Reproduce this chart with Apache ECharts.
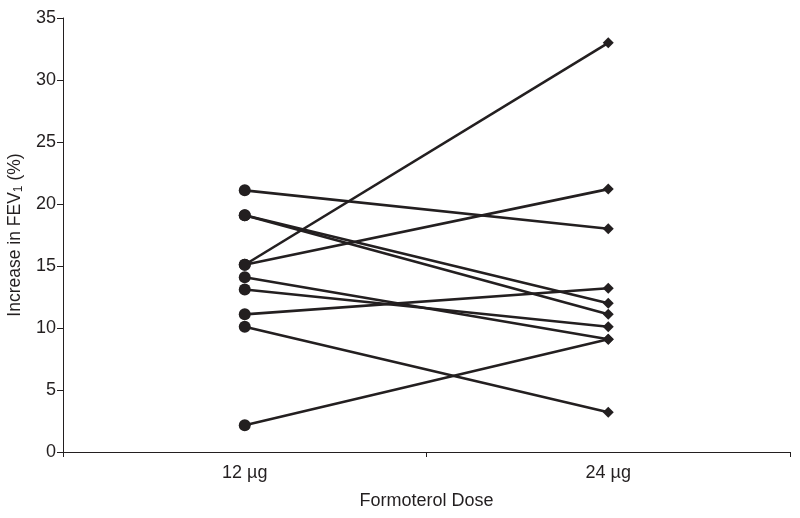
<!DOCTYPE html>
<html>
<head>
<meta charset="utf-8">
<script src="https://cdn.jsdelivr.net/npm/echarts@6/dist/echarts.min.js"></script>
<style>html,body{margin:0;padding:0;background:#fff}#c{width:800px;height:518px}</style>
</head>
<body>
<div id="c"></div>
<script>
var categories = ['12 \u00b5g', '24 \u00b5g'];
var dose12 = [21.1, 19.1, 19.1, 15.1, 15.1, 14.1, 13.1, 11.1, 10.1, 2.15];
var dose24 = [18.0, 12.0, 11.1, 33.0, 21.2, 9.1, 10.1, 13.2, 3.2, 9.1];
var yTicks = [0, 5, 10, 15, 20, 25, 30, 35];

var ink = '#231f20';
var font = 'Liberation Sans';
var series = dose12.map(function (v, i) {
  return {
    type: 'line',
    data: [
      { value: v, symbol: 'circle', symbolSize: 12 },
      { value: dose24[i], symbol: 'diamond', symbolSize: 11 }
    ],
    lineStyle: { color: ink, width: 2.6 },
    itemStyle: { color: ink, borderWidth: 0 },
    showAllSymbol: true,
    animation: false,
    silent: true
  };
});

var chart = echarts.init(document.getElementById('c'), null, { renderer: 'canvas' });
chart.setOption({
  backgroundColor: '#fff',
  animation: false,
  grid: { left: 63, right: 10, top: 18, bottom: 66, containLabel: false, outerBoundsMode: 'none' },
  xAxis: {
    type: 'category',
    data: categories,
    boundaryGap: true,
    name: 'Formoterol Dose',
    nameLocation: 'middle',
    nameGap: 40,
    nameMoveOverlap: false,
    nameTextStyle: { color: ink, fontSize: 18, fontFamily: font },
    axisLine: { lineStyle: { color: ink, width: 1 } },
    axisTick: { show: true, alignWithLabel: false, length: 5, lineStyle: { color: ink } },
    axisLabel: { color: ink, fontSize: 18, margin: 12, fontFamily: font },
    splitLine: { show: false }
  },
  yAxis: {
    type: 'value',
    min: yTicks[0],
    max: yTicks[yTicks.length - 1],
    interval: 5,
    name: 'Increase in FEV{sub|1} (%)',
    nameLocation: 'middle',
    nameGap: 38,
    nameMoveOverlap: false,
    nameTextStyle: {
      color: ink, fontSize: 17.5, fontFamily: font,
      rich: { sub: { fontSize: 12, verticalAlign: 'bottom', padding: [7, 0, 0, 0], color: ink, fontFamily: font } }
    },
    axisLine: { show: true, lineStyle: { color: ink, width: 1 } },
    axisTick: { show: true, length: 6, lineStyle: { color: ink } },
    axisLabel: { color: ink, fontSize: 18, margin: 7, fontFamily: font },
    splitLine: { show: false }
  },
  series: series
});
</script>
</body>
</html>
